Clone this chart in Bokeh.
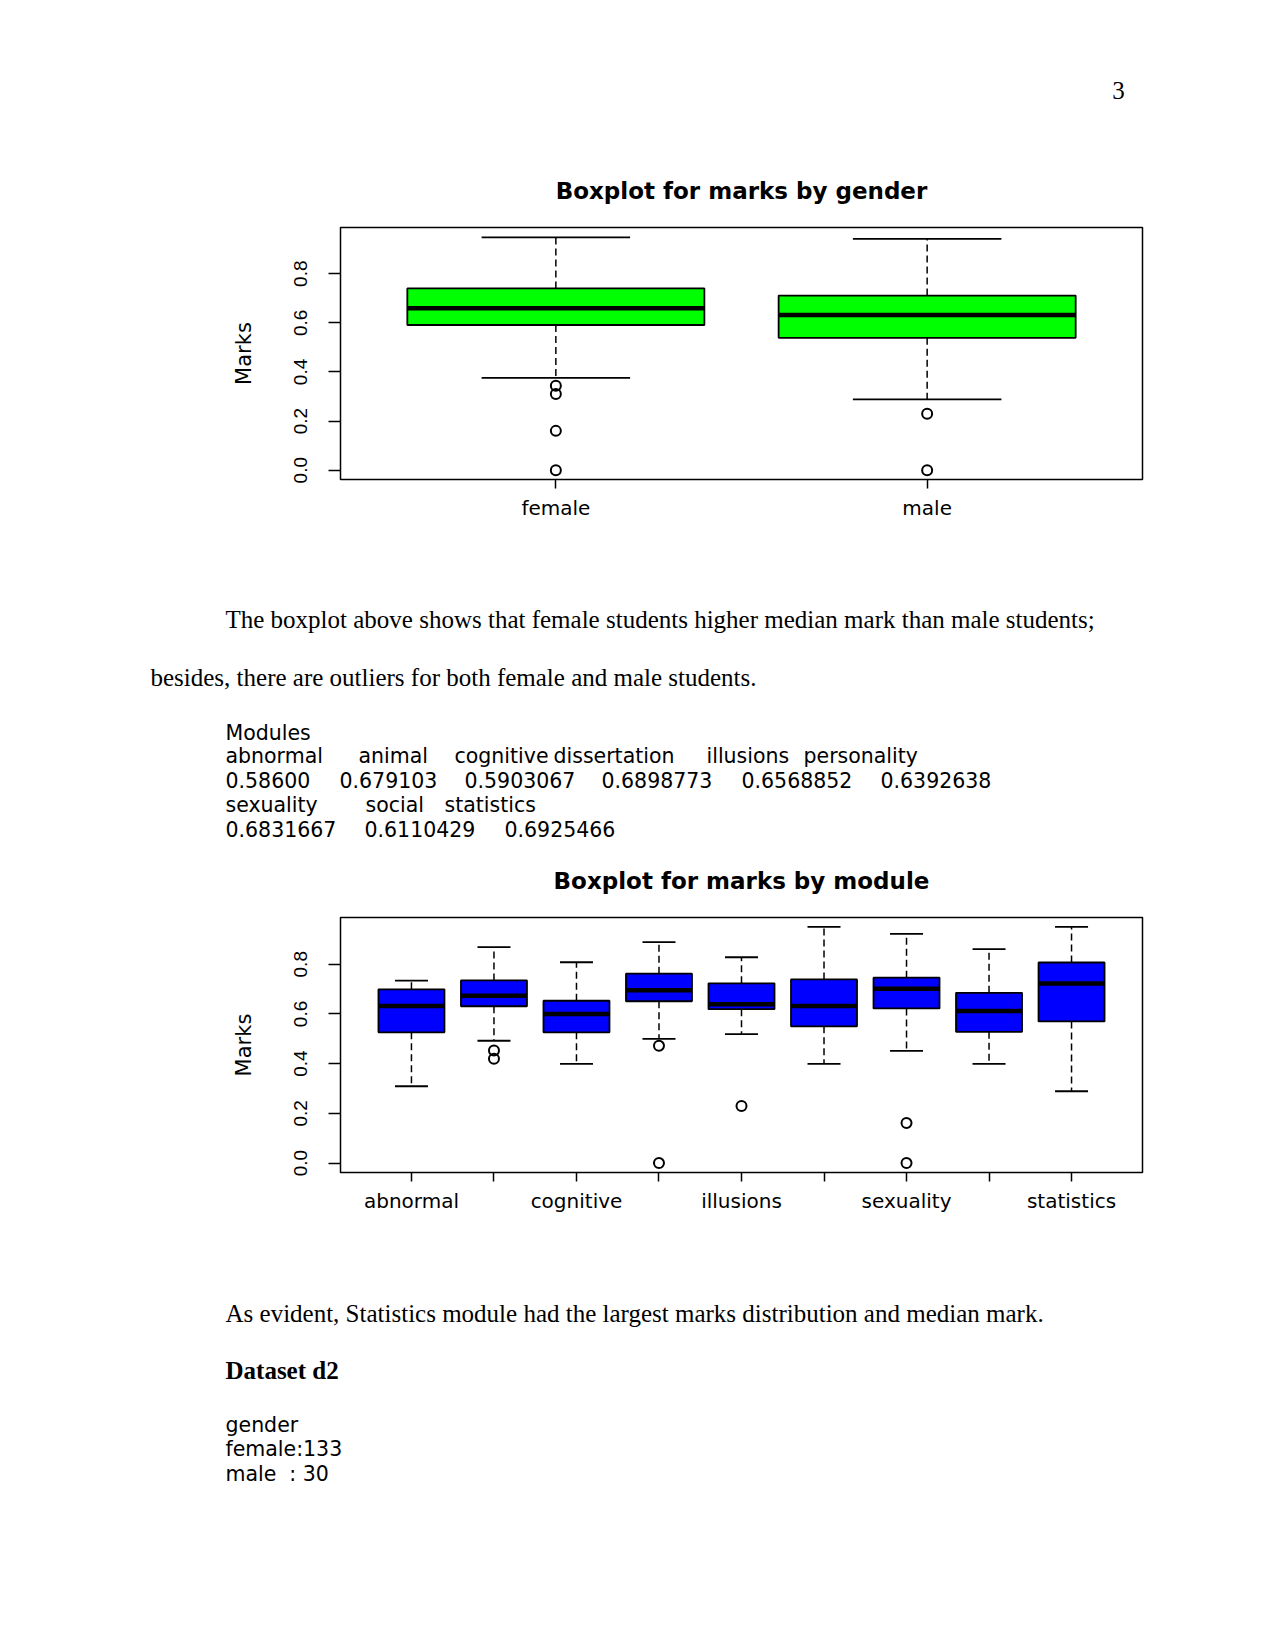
import numpy as np
from bokeh.plotting import figure
from bokeh.layouts import column
from bokeh.models import Range1d, FixedTicker, ColumnDataSource, PrintfTickFormatter
from bokeh.core.properties import value
from bokeh.embed import file_html
from bokeh.resources import INLINE

# ---------------- data ----------------
gender = ["female", "male"]
g_low = [0.376, 0.288]
g_q1 = [0.591, 0.539]
g_med = [0.659, 0.632]
g_q3 = [0.740, 0.711]
g_high = [0.948, 0.942]
g_out_cat = ["female", "female", "female", "female", "male", "male"]
g_out_val = [0.344, 0.310, 0.160, 0.0, 0.230, 0.0]

modules = ["abnormal", "animal", "cognitive", "dissertation", "illusions",
           "personality", "sexuality", "social", "statistics"]
m_low = [0.309, 0.492, 0.399, 0.500, 0.519, 0.399, 0.451, 0.399, 0.289]
m_q1 = [0.526, 0.631, 0.526, 0.651, 0.619, 0.550, 0.622, 0.528, 0.570]
m_med = [0.632, 0.673, 0.600, 0.695, 0.639, 0.632, 0.701, 0.612, 0.722]
m_q3 = [0.699, 0.735, 0.653, 0.762, 0.723, 0.739, 0.746, 0.685, 0.807]
m_high = [0.734, 0.869, 0.808, 0.889, 0.828, 0.950, 0.922, 0.861, 0.950]
m_out_cat = ["animal", "animal", "dissertation", "dissertation", "illusions",
             "sexuality", "sexuality"]
m_out_val = [0.453, 0.420, 0.472, 0.0, 0.230, 0.161, 0.0]
m_shown_labels = ["abnormal", "cognitive", "illusions", "sexuality", "statistics"]

y_ticks = [0.0, 0.2, 0.4, 0.6, 0.8]

page_number = "3"
para1 = "The boxplot above shows that female students higher median mark than male students;"
para2 = "besides, there are outliers for both female and male students."
modules_header = "Modules"
mod_names_row1 = ["abnormal", "animal", "cognitive", "dissertation", "illusions", "personality"]
mod_means_row1 = ["0.58600", "0.679103", "0.5903067", "0.6898773", "0.6568852", "0.6392638"]
mod_names_row2 = ["sexuality", "social", "statistics"]
mod_means_row2 = ["0.6831667", "0.6110429", "0.6925466"]
para3 = "As evident, Statistics module had the largest marks distribution and median mark."
heading = "Dataset d2"
gender_lines = ["gender", "female:133", "male \u00a0: 30"]

W = 1275
SERIF = "Liberation Serif"
SANS = "DejaVu Sans"
RSANS = "Liberation Sans"


def text_fig(height):
    p = figure(width=W, height=height, output_backend="svg", toolbar_location=None,
               x_range=Range1d(0, W), y_range=Range1d(height, 0),
               min_border=0, frame_align=False)
    p.axis.visible = False
    p.grid.visible = False
    p.outline_line_color = None
    p.background_fill_color = "white"
    p.border_fill_color = "white"
    return p


def put(p, xs, ys, texts, font, size, style="normal"):
    p.text(x=xs, y=ys, text=texts, text_font=value(font), text_font_size=size,
           text_font_style=style, text_baseline="middle", text_align="left",
           text_color="black")


def boxplot(cats, low, q1, med, q3, high, out_cat, out_val, color, title,
            height, top, bottom, xr, shown):
    p = figure(width=W, height=height, output_backend="svg", toolbar_location=None,
               x_range=Range1d(*xr), y_range=Range1d(-0.038, 0.988),
               min_border_left=340, min_border_right=133,
               min_border_top=top, min_border_bottom=bottom, frame_align=False)
    pos = list(range(1, len(cats) + 1))
    src = ColumnDataSource(dict(
        x=pos, low=low, q1=q1, med=med, q3=q3, high=high,
        left=[i - 0.4 for i in pos], right=[i + 0.4 for i in pos],
        cl=[i - 0.2 for i in pos], cr=[i + 0.2 for i in pos]))
    p.segment(x0="x", y0="q3", x1="x", y1="high", source=src,
              line_dash="7 4", line_color="black", line_width=1.5)
    p.segment(x0="x", y0="q1", x1="x", y1="low", source=src,
              line_dash="7 4", line_color="black", line_width=1.5)
    p.segment(x0="cl", y0="high", x1="cr", y1="high", source=src,
              line_color="black", line_width=1.8)
    p.segment(x0="cl", y0="low", x1="cr", y1="low", source=src,
              line_color="black", line_width=1.8)
    p.quad(left="left", right="right", bottom="q1", top="q3", source=src,
           fill_color=color, line_color="black", line_width=1.8)
    p.segment(x0="left", y0="med", x1="right", y1="med", source=src,
              line_color="black", line_width=4.5)
    idx = {c: i + 1 for i, c in enumerate(cats)}
    p.scatter([idx[c] for c in out_cat], out_val, marker="circle", size=10,
              fill_color=None, line_color="black", line_width=2)

    p.grid.visible = False
    p.outline_line_color = "black"
    p.outline_line_width = 1.5
    p.background_fill_color = "white"
    p.border_fill_color = "white"

    p.title.text = title
    p.title.align = "center"
    p.title.text_font = SANS
    p.title.text_font_size = "23px"
    p.title.text_font_style = "bold"
    p.title.text_color = "black"
    p.title.standoff = 47

    ya = p.yaxis[0]
    ya.ticker = FixedTicker(ticks=y_ticks)
    ya.formatter = PrintfTickFormatter(format="%.1f")
    ya.axis_line_color = None
    ya.major_tick_out = 12
    ya.major_tick_in = 0
    ya.minor_tick_line_color = None
    ya.major_tick_line_width = 1.5
    ya.major_tick_line_color = "black"
    ya.major_label_orientation = "vertical"
    ya.major_label_text_font = RSANS
    ya.major_label_text_font_size = "19px"
    ya.major_label_text_color = "black"
    ya.major_label_standoff = 21
    ya.axis_label = "Marks"
    ya.axis_label_text_font = SANS
    ya.axis_label_text_font_size = "21px"
    ya.axis_label_text_font_style = "normal"
    ya.axis_label_text_color = "black"
    ya.axis_label_standoff = 36

    xa = p.xaxis[0]
    xa.ticker = FixedTicker(ticks=pos)
    xa.major_label_overrides = {i: (c if c in shown else "") for i, c in zip(pos, cats)}
    xa.axis_line_color = None
    xa.major_tick_out = 9
    xa.major_tick_in = 0
    xa.minor_tick_line_color = None
    xa.major_tick_line_width = 1.5
    xa.major_tick_line_color = "black"
    xa.major_label_text_font = SANS
    xa.major_label_text_font_size = "20px"
    xa.major_label_text_color = "black"
    xa.major_label_standoff = 7
    return p


# header with page number
head = text_fig(150)
head.text(x=[1118], y=[90], text=[page_number], text_font=value(SERIF),
          text_font_size="25px", text_baseline="middle", text_align="center",
          text_color="black")

fig1 = boxplot(gender, g_low, g_q1, g_med, g_q3, g_high, g_out_cat, g_out_val,
               "#00ff00", "Boxplot for marks by gender", 380, 77, 51,
               (0.42, 2.58), gender)

mid = text_fig(312)
put(mid, [225], [89], [para1], SERIF, "25px")
put(mid, [150], [147], [para2], SERIF, "25px")
put(mid, [225], [202], [modules_header], SANS, "20.5px")
put(mid, [225, 358, 454, 553, 706, 803], [225] * 6, mod_names_row1, SANS, "20.5px")
put(mid, [225, 339, 464, 601, 741, 880], [249] * 6, mod_means_row1, SANS, "20.5px")
put(mid, [225, 365, 444], [274] * 3, mod_names_row2, SANS, "20.5px")
put(mid, [225, 364, 504], [298] * 3, mod_means_row2, SANS, "20.5px")

fig2 = boxplot(modules, m_low, m_q1, m_med, m_q3, m_high, m_out_cat, m_out_val,
               "#0000ff", "Boxplot for marks by module", 388, 75, 58,
               (0.14, 9.86), m_shown_labels)

bottom = text_fig(420)
put(bottom, [225], [83], [para3], SERIF, "25px")
put(bottom, [225], [140], [heading], SERIF, "25px", "bold")
put(bottom, [225] * 3, [194, 218, 243], gender_lines, SANS, "20.5px")

layout = column(head, fig1, mid, fig2, bottom, spacing=0)

open("out.html", "w").write(file_html(layout, INLINE))
